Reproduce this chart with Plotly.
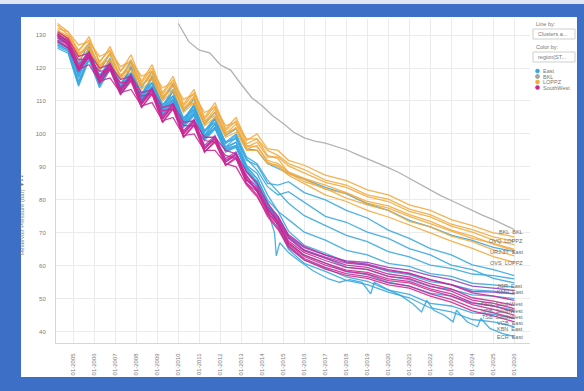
import plotly.graph_objects as go

# ---------------- data ----------------
dates = ["2004-04", "2004-10", "2005-04", "2005-10", "2006-04", "2006-10", "2007-04", "2007-10",
         "2008-04", "2008-10", "2009-04", "2009-10", "2010-04", "2010-10", "2011-04", "2011-10",
         "2012-04", "2012-10", "2013-04", "2013-10", "2014-04", "2014-10", "2015-04", "2016-01",
         "2017-01", "2018-01", "2019-01", "2020-01", "2021-01", "2022-01", "2023-01", "2024-01",
         "2025-01", "2026-01"]

loppz_1 = [133.5,131.0,125.0,129.5,121.5,126.5,119.0,124.0,116.0,121.0,112.5,117.5,109.0,113.5,105.0,109.5,101.5,105.0,98.0,100.0,95.5,95.0,
           92.0,90.5,87.5,85.8,83.0,81.5,78.5,76.8,74.0,72.2,70.0,68.8]
loppz_2 = [132.0,131.0,127.0,128.0,123.5,125.0,120.5,122.0,117.5,119.0,114.0,115.5,110.5,112.0,106.5,108.0,102.5,103.5,98.5,98.5,95.0,93.5,
           91.0,89.2,86.0,84.5,81.5,80.2,77.2,75.5,72.6,71.0,68.8,67.4]
loppz_3 = [130.5,129.0,123.5,127.0,120.5,124.5,117.5,121.5,114.5,119.0,111.0,115.5,107.5,111.5,103.5,107.5,100.0,103.0,96.0,97.5,93.0,93.0,
           90.3,88.2,85.3,83.8,81.0,79.5,76.5,74.8,72.0,70.2,67.8,66.4]
loppz_4 = [131.5,129.5,124.5,126.0,121.0,122.5,118.0,119.5,115.0,117.0,111.5,113.5,108.0,109.5,104.0,105.5,100.5,101.5,96.5,96.0,92.0,91.0,
           88.5,86.5,84.5,82.2,79.5,78.2,75.5,73.5,70.8,69.0,66.6,64.6]
loppz_5 = [133.0,130.0,125.5,128.5,122.0,125.5,119.0,122.5,115.5,120.0,112.0,116.5,108.5,112.5,104.5,108.5,101.0,104.0,97.0,98.5,93.5,92.5,
           88.2,85.5,83.5,80.5,78.5,76.8,73.5,71.8,69.0,67.3,64.8,63.0]
loppz_6 = [131.0,129.8,124.0,127.5,120.0,124.0,117.0,121.0,114.5,118.0,110.5,114.5,107.0,111.0,103.0,106.5,99.5,102.0,95.5,96.5,91.5,90.0,
           87.5,85.0,81.5,79.5,76.8,74.8,72.5,70.0,67.5,65.3,62.8,61.0]
loppz_7 = [130.0,128.5,122.5,125.5,119.5,122.0,116.5,119.5,113.5,116.5,110.0,113.0,106.5,109.5,102.5,105.0,99.0,100.5,95.0,95.0,91.0,90.5,
           88.0,86.2,83.2,82.0,79.0,77.5,75.0,72.8,70.5,68.3,66.8,65.0]

east_1 = [130.5,129.0,121.5,127.5,119.0,124.5,117.0,122.0,114.0,119.0,110.5,115.0,107.0,110.5,103.0,106.5,99.5,101.5,95.5,95.0,91.0,89.5,
          88.0,86.3,83.8,81.8,78.8,76.8,73.8,71.8,69.3,67.7,65.6,64.3]
east_2 = [129.0,127.5,118.0,125.5,116.0,122.5,114.0,120.0,111.5,117.0,108.0,113.0,104.0,108.5,100.5,104.5,97.0,99.5,92.0,90.5,85.0,84.5,
          85.5,82.2,80.0,76.8,74.5,70.8,68.3,65.2,63.3,60.3,58.8,57.0]
east_3 = [128.0,126.0,120.0,124.0,118.0,121.0,115.5,118.5,112.5,115.5,109.0,111.5,105.0,107.5,101.0,103.5,97.5,98.5,92.5,89.0,84.0,81.5,
          82.5,79.3,75.0,73.2,70.2,68.3,65.2,63.3,60.2,58.8,56.2,54.8]
east_10 = [129.5,128.0,118.5,126.5,117.0,123.0,114.5,120.5,112.0,117.5,108.5,113.5,104.5,109.0,101.0,105.0,97.5,100.0,93.0,91.0,86.0,82.5,
           79.0,75.2,72.3,69.2,67.3,64.3,62.7,60.2,59.2,57.5,57.0,56.0]
east_4 = [127.0,125.5,116.0,124.0,115.0,121.0,113.0,118.5,110.5,115.5,107.0,111.5,103.0,107.0,99.0,103.0,95.5,97.5,90.0,86.5,80.0,76.5,
          74.0,70.2,67.8,64.7,63.3,60.7,59.8,57.6,56.8,54.7,54.2,53.5]
east_5 = [128.5,127.5,117.0,125.5,116.5,122.5,114.5,120.0,111.0,117.0,107.5,113.0,103.5,108.5,99.5,104.5,96.0,99.0,90.5,88.0,81.5,76.5,
          70.5,66.2,63.8,61.2,60.2,58.2,57.3,55.2,54.3,52.7,52.3,51.5]
east_11 = [127.5,126.0,118.5,123.5,116.0,120.0,113.5,117.5,110.5,114.0,107.0,110.5,103.0,106.0,99.0,102.0,95.5,96.5,89.5,85.5,78.5,75.0,
           69.0,64.7,62.3,59.6,58.8,56.8,55.8,53.7,52.8,51.2,50.8,50.0]
east_6 = [126.5,125.0,115.0,123.0,114.5,120.0,112.5,117.5,110.0,114.5,106.5,110.5,102.5,106.5,98.5,102.0,95.0,96.5,89.0,85.5,78.5,73.5,
          67.0,63.2,60.8,58.2,57.3,55.0,53.8,51.7,50.8,48.7,47.8,46.5]
east_7 = [128.0,126.0,117.5,124.5,116.0,121.0,114.0,118.5,111.0,115.5,107.5,111.5,103.5,107.5,99.5,103.0,96.0,97.5,90.0,86.5,79.5,73.0,
          66.0,61.7,59.3,56.6,55.3,52.6,51.3,48.6,47.8,45.7,45.3,44.0]
east_8 = [126.0,124.5,114.5,122.5,114.0,119.5,112.0,117.0,109.5,114.0,106.0,110.0,102.0,105.5,98.0,101.5,94.5,96.0,88.5,85.0,78.0,72.0,
          65.0,60.7,58.3,55.6,54.3,52.0,50.3,47.2,46.0,43.7,43.0,41.5]

east_9_dates = ["2004-04", "2004-10", "2005-04", "2005-10", "2006-04", "2006-10", "2007-04", "2007-10",
                "2008-04", "2008-10", "2009-04", "2009-10", "2010-04", "2010-10", "2011-04", "2011-10",
                "2012-04", "2012-10", "2013-04", "2013-10", "2014-04", "2014-08", "2014-09", "2014-11",
                "2015-04", "2015-10", "2016-06", "2017-03", "2017-09", "2018-03", "2018-10", "2019-03",
                "2019-05", "2019-12", "2020-08", "2021-03", "2021-08", "2021-11", "2022-03", "2022-09",
                "2023-02", "2023-04", "2023-10", "2024-04", "2024-06", "2024-11", "2025-06", "2026-01"]
east_9 = [127.0,125.5,115.5,123.0,115.0,120.0,113.0,117.5,110.0,114.5,106.5,110.5,102.5,106.0,98.5,102.0,
          95.0,96.0,88.5,84.5,77.0,70.0,63.0,67.0,64.0,61.5,58.5,56.0,55.0,55.8,55.0,51.5,
          55.0,53.0,51.0,48.5,46.0,49.5,46.5,45.0,43.0,46.5,43.0,41.5,44.0,41.0,39.5,38.5]

sw_1 = [131.0,129.0,123.5,124.5,120.0,121.0,116.5,117.5,112.5,113.5,108.0,109.0,103.5,104.0,99.0,99.0,95.0,94.0,88.5,85.0,79.0,75.0,
        69.5,65.8,63.3,61.2,60.5,58.8,57.8,55.8,54.2,51.8,50.8,49.5]
sw_2 = [129.5,127.5,120.0,124.5,116.5,121.0,113.0,117.5,109.0,113.5,104.5,109.0,100.0,104.0,95.5,99.0,91.5,94.0,86.0,83.5,77.0,74.0,
        68.3,64.5,62.3,60.2,59.5,57.5,56.6,54.5,53.0,50.3,49.3,48.0]
sw_3 = [130.5,128.0,122.5,123.0,119.0,119.5,115.5,116.0,111.5,112.0,107.0,107.5,102.5,102.5,98.0,97.5,93.5,92.5,87.5,82.5,77.5,73.0,
        67.5,64.0,61.6,59.5,58.9,56.8,56.1,53.8,52.3,49.6,48.6,47.0]
sw_4 = [128.5,126.5,119.5,123.5,115.5,120.0,112.0,116.5,108.0,112.5,103.5,108.0,99.0,103.0,94.5,98.0,90.5,93.0,85.0,82.5,76.0,72.5,
        67.0,63.2,60.8,58.7,58.0,56.0,55.3,53.0,51.5,48.8,47.8,46.0]
sw_5 = [130.0,128.5,120.5,124.5,117.0,121.0,113.5,117.5,109.5,113.5,105.0,109.0,100.5,104.0,96.0,99.0,92.0,94.0,86.5,83.0,76.5,72.5,
        66.5,62.8,60.2,58.3,57.5,55.5,54.8,52.5,50.8,48.2,46.8,45.0]
sw_6 = [128.0,126.0,119.5,121.0,116.0,117.0,112.5,113.5,108.5,109.5,104.0,105.0,99.5,100.0,95.0,95.0,91.0,90.0,84.5,81.0,75.5,71.5,
        66.0,62.2,59.5,57.6,56.7,54.8,53.8,51.5,49.8,47.2,45.8,44.0]
sw_7 = [129.8,127.0,119.0,123.5,115.5,119.5,112.0,116.0,108.0,112.0,103.5,107.5,99.0,102.5,94.5,97.5,90.5,92.5,85.0,81.5,75.0,71.0,
        65.5,61.8,59.0,57.1,56.2,54.2,53.2,50.8,49.0,46.3,44.8,43.0]
sw_8 = [130.2,128.0,121.0,125.0,117.5,121.5,114.0,118.0,110.0,114.0,105.5,109.5,101.0,104.5,96.5,99.5,92.5,94.5,87.0,84.0,78.0,74.5,
        69.0,65.5,63.2,61.5,61.0,59.5,58.7,57.0,55.8,53.8,53.2,52.5]
sw_9 = [129.2,127.0,119.5,124.0,116.5,120.5,113.0,117.0,109.0,113.0,104.5,108.5,100.0,103.5,95.5,98.5,91.5,93.5,86.0,83.0,77.0,73.5,
        68.5,64.8,62.6,60.8,60.2,58.5,57.6,55.7,54.3,52.2,52.0,51.5]

bkl_dates = ["2010-01", "2010-07", "2011-01", "2011-07", "2012-01", "2012-07", "2013-01", "2013-07",
             "2014-01", "2014-07", "2015-01", "2015-07", "2016-01", "2016-07", "2017-01", "2017-07",
             "2018-01", "2018-07", "2019-01", "2019-07", "2020-01", "2020-07", "2021-01", "2021-07",
             "2022-01", "2022-07", "2023-01", "2023-07", "2024-01", "2024-07", "2025-01", "2025-07",
             "2026-01"]
bkl_1 = [133.5,128.0,125.4,124.6,121.0,119.3,115.0,111.0,108.5,105.5,103.2,100.5,98.8,97.8,97.2,96.2,
         95.2,93.8,92.5,91.0,89.8,88.3,86.5,84.8,83.0,81.3,79.8,78.3,76.8,75.3,74.0,72.6,71.0]

end_label_text = ["BKL  BKL", "OVQ  LOPPZ", "URJ:3Y  East", "OVS  LOPPZ", "JGR  East", "KMV  East",
                  "PKG  SouthWest", "NRB  SouthWest", "TSB  SouthWest", "VGB  East", "KBN  East", "ECR  East"]
end_label_value = [70.3, 67.4, 64.3, 60.7, 54.0, 52.0, 48.3, 46.4, 44.4, 42.5, 40.9, 38.5]

legend_names = ["East", "BKL", "LOPPZ", "SouthWest"]
y_ticks = [40, 50, 60, 70, 80, 90, 100, 110, 120, 130]

# ---------------- style ----------------
COL_EAST = "#35a7e2"
COL_BKL = "#a8a8a8"
COL_LOPPZ = "#f3aa3c"
COL_SW = "#cc2792"
COL_SW2 = "#9043c4"
FRAME = "#3e6fc7"
FONT = "Liberation Sans"

FIG_W, FIG_H = 584, 391
L, R, T, B = 56, 530, 19, 343
PW, PH = R - L, B - T


def px(x):
    return (x - L) / PW


def py(y):
    return (B - y) / PH


fig = go.Figure()


def add_line(x, y, color, width=1.3, op=0.88):
    fig.add_trace(go.Scatter(x=x, y=y, mode="lines", line=dict(color=color, width=width),
                             opacity=op, hoverinfo="skip", showlegend=False))


for ser in [east_1, east_2, east_3, east_10, east_4, east_5, east_11, east_6, east_7, east_8]:
    add_line(dates, ser, COL_EAST)
add_line(east_9_dates, east_9, COL_EAST)
for ser in [loppz_1, loppz_2, loppz_3, loppz_4, loppz_5, loppz_6, loppz_7]:
    add_line(dates, ser, COL_LOPPZ)
add_line(bkl_dates, bkl_1, COL_BKL)
for ser in [sw_8, sw_9]:
    add_line(dates, ser, COL_SW2)
for ser in [sw_1, sw_2, sw_3, sw_4, sw_5, sw_6, sw_7]:
    add_line(dates, ser, COL_SW)

shapes = [
    dict(type="rect", xref="paper", yref="paper", x0=px(21), x1=px(577), y0=py(377), y1=py(17),
         fillcolor="white", line=dict(width=0), layer="below"),
    dict(type="rect", xref="paper", yref="paper", x0=px(0), x1=px(584), y0=py(4), y1=py(0),
         fillcolor="#dfe7f4", line=dict(width=0), layer="below"),
    dict(type="rect", xref="paper", yref="paper", x0=px(533), x1=px(575), y0=py(39), y1=py(29),
         fillcolor="white", line=dict(color="#cfcfcf", width=1)),
    dict(type="rect", xref="paper", yref="paper", x0=px(533), x1=px(575), y0=py(62), y1=py(52),
         fillcolor="white", line=dict(color="#cfcfcf", width=1)),
]

legend_cols = [COL_EAST, COL_BKL, COL_LOPPZ, COL_SW]
legend_y = [71, 76.5, 82, 87.5]
for c, yy in zip(legend_cols, legend_y):
    shapes.append(dict(type="circle", xref="paper", yref="paper", x0=px(535.5), x1=px(539.5),
                       y0=py(yy + 2), y1=py(yy - 2), fillcolor=c,
                       line=dict(color="#888888" if c == COL_BKL else c, width=0.6)))

annotations = []
for txt, val in zip(end_label_text, end_label_value):
    annotations.append(dict(x="2026-07-01", y=val, xref="x", yref="y", text=txt, showarrow=False,
                            xanchor="right", yanchor="middle",
                            font=dict(family=FONT, size=5.5, color="#6a6a6a")))

ui_font = dict(family=FONT, size=5.5, color="#777777")
annotations += [
    dict(x=px(534), y=py(24), xref="paper", yref="paper", text="Line by:", showarrow=False,
         xanchor="left", yanchor="middle", font=ui_font),
    dict(x=px(536), y=py(34), xref="paper", yref="paper", text="Clusters a...", showarrow=False,
         xanchor="left", yanchor="middle", font=ui_font),
    dict(x=px(534), y=py(47), xref="paper", yref="paper", text="Color by:", showarrow=False,
         xanchor="left", yanchor="middle", font=ui_font),
    dict(x=px(536), y=py(57), xref="paper", yref="paper", text="region(ST...", showarrow=False,
         xanchor="left", yanchor="middle", font=ui_font),
    dict(x=px(22), y=py(215), xref="paper", yref="paper", text="Reservoir Pressure (bar)  ▾ ▪ ▪",
         showarrow=False, textangle=-90, xanchor="center", yanchor="middle",
         font=dict(family=FONT, size=6, color="#7a7a7a")),
]
for name, yy in zip(legend_names, legend_y):
    annotations.append(dict(x=px(541), y=py(yy), xref="paper", yref="paper", text=name,
                            showarrow=False, xanchor="left", yanchor="middle", font=ui_font))

fig.update_layout(
    width=FIG_W, height=FIG_H,
    margin=dict(l=L, r=FIG_W - R, t=T, b=FIG_H - B, pad=0),
    paper_bgcolor=FRAME,
    plot_bgcolor="white",
    showlegend=False,
    shapes=shapes,
    annotations=annotations,
    font=dict(family=FONT),
    xaxis=dict(type="date", range=["2004-03-05", "2026-10-01"], tick0="2005-01-01", dtick="M12",
               tickformat="%m-%Y", tickangle=-90, tickfont=dict(size=6, color="#7a7a7a"),
               showgrid=True, gridcolor="#ebebeb", gridwidth=1, showline=True, linecolor="#d6d6d6",
               linewidth=1, ticks="", ticklabelstandoff=7, zeroline=False),
    yaxis=dict(range=[36.57, 134.87], tickvals=y_ticks, tickfont=dict(size=6, color="#7a7a7a"),
               showgrid=True, gridcolor="#ebebeb", gridwidth=1, showline=True, linecolor="#d6d6d6",
               linewidth=1, ticks="", ticklabelstandoff=8, zeroline=False),
)

fig.write_html("out.html")
